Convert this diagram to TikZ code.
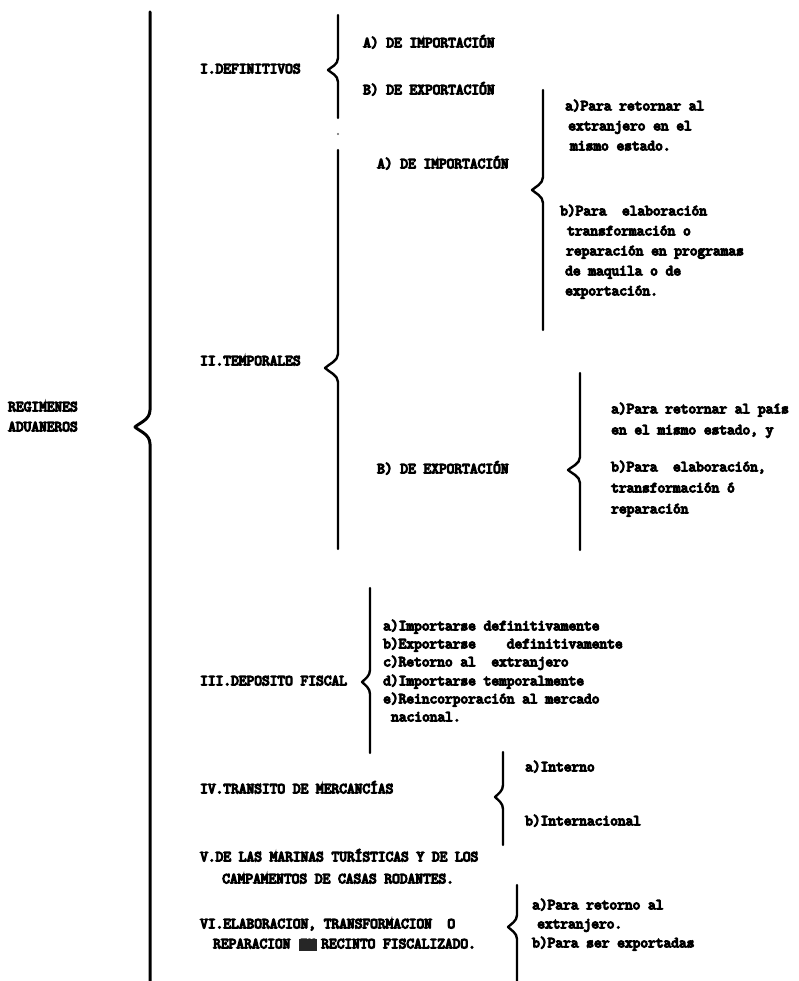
\documentclass[tikz,border=0pt]{standalone}
\usepackage{fontspec}
\newfontfamily\tw{Latin Modern Mono}[FakeBold=8]
\begin{document}
\begin{tikzpicture}[x=1pt,y=-1pt,
  txt/.style={anchor=west,inner sep=0pt,text height=9pt,text depth=2.5pt,
    font=\tw\fontsize{15}{17}\selectfont},
  brc/.style={line width=2.4pt,line cap=round,line join=round},
  mainbrc/.style={line width=3pt,line cap=round,line join=round}]
\useasboundingbox[fill=white] (0,0) rectangle (799,981);
% ---------- braces ----------
% main
\draw[mainbrc] (150,12) -- (150,410) .. controls (150,420) and (139,423) .. (135,427)
   .. controls (139,431) and (150,434) .. (150,444) -- (150,981);
% I
\draw[brc] (338,15) -- (338,58) .. controls (338,65) and (331,67) .. (328,70)
   .. controls (331,73) and (338,75) .. (338,82) -- (338,118);
\fill[black!60] (338,134) circle (1.2);
% II
\draw[brc] (338,150) -- (338,354) .. controls (338,361) and (329,364) .. (325,368)
   .. controls (329,372) and (338,375) .. (338,382) -- (338,549);
% IIA
\draw[brc] (543,90) -- (543,177) .. controls (543,184) and (535,187) .. (532,190)
   .. controls (535,193) and (543,196) .. (543,203) -- (543,330);
% IIB
\draw[brc] (580,373) -- (580,457) .. controls (580,464) and (571,467) .. (568,470)
   .. controls (571,473) and (580,476) .. (580,483) -- (580,550);
% III
\draw[brc] (370,588) -- (370,670) .. controls (370,676) and (365,679) .. (362,682)
   .. controls (365,685) and (370,688) .. (370,694) -- (370,753);
% IV
\draw[brc] (503,752) -- (503,785) .. controls (503,791) and (498,794) .. (495,797)
   .. controls (498,800) and (503,803) .. (503,809) -- (503,845);
% VI
\draw[brc] (517,885) -- (517,915) .. controls (517,921) and (511,924) .. (508,927)
   .. controls (511,930) and (517,933) .. (517,939) -- (517,981);
% ---------- texts ----------
\node[txt] (reg1) at (8,408) {REGIMENES};
\node[txt] (reg2) at (8,428) {ADUANEROS};
\node[txt] (def) at (200,70) {I.DEFINITIVOS};
\node[txt] (defa) at (363,44) {A) DE IMPORTACIÓN};
\node[txt] (defb) at (363,91) {B) DE EXPORTACIÓN};
\node[txt] (tem) at (200,362) {II.TEMPORALES};
\node[txt] (tema) at (377,165) {A) DE IMPORTACIÓN};
\node[txt] (temaa1) at (565,107) {a)Para retornar al};
\node[txt] (temaa2) at (568,127) {extranjero en el};
\node[txt] (temaa3) at (570,147) {mismo estado.};
\node[txt] (temab1) at (560,212) {b)Para~~elaboración};
\node[txt] (temab2) at (567,232) {transformación o};
\node[txt] (temab3) at (566,252) {reparación en programas};
\node[txt] (temab4) at (565,272) {de maquila o de};
\node[txt] (temab5) at (565,292) {exportación.};
\node[txt] (temb) at (377,470) {B) DE EXPORTACIÓN};
\node[txt] (temba1) at (611,410) {a)Para retornar al país};
\node[txt] (temba2) at (611,431) {en el mismo estado, y};
\node[txt] (tembb1) at (611,468) {b)Para~~elaboración,};
\node[txt] (tembb2) at (611,489) {transformación ó};
\node[txt] (tembb3) at (611,510) {reparación};
\node[txt] (dep) at (200,682) {III.DEPOSITO FISCAL};
\node[txt] (depa) at (383,627) {a)Importarse definitivamente};
\node[txt] (depb) at (383,645) {b)Exportarse~~~~definitivamente};
\node[txt] (depc) at (383,663) {c)Retorno al~~extranjero};
\node[txt] (depd) at (383,682) {d)Importarse temporalmente};
\node[txt] (depe) at (383,700) {e)Reincorporación al mercado};
\node[txt] (depe2) at (391,718) {nacional.};
\node[txt] (tra) at (200,790) {IV.TRANSITO DE MERCANCÍAS};
\node[txt] (traa) at (525,768) {a)Interno};
\node[txt] (trab) at (525,822) {b)Internacional};
\node[txt] (mar1) at (200,858) {V.DE LAS MARINAS TURÍSTICAS Y DE LOS};
\node[txt] (mar2) at (222,880) {CAMPAMENTOS DE CASAS RODANTES.};
\node[txt] (ela1) at (200,925) {VI.ELABORACION, TRANSFORMACION~~O};
\node[txt] (ela2) at (213,945) {REPARACION \hphantom{EN} RECINTO FISCALIZADO.};
\node[txt,fill=black!85,text=black!85,inner xsep=1pt] (elaen) at (299,945) {EN};
\node[txt] (elaa1) at (532,906) {a)Para retorno al};
\node[txt] (elaa2) at (537,925) {extranjero.};
\node[txt] (elab) at (532,944) {b)Para ser exportadas};
\end{tikzpicture}
\end{document}
